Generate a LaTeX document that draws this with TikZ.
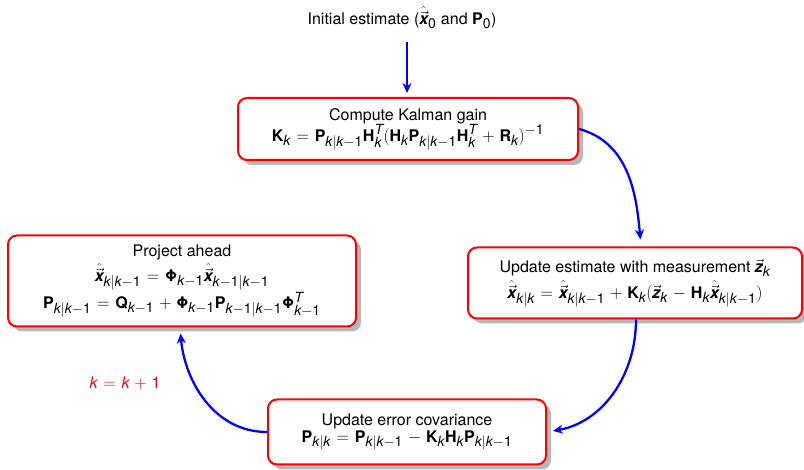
\documentclass[tikz,border=0pt]{standalone}
\usepackage{amsmath}
\usepackage{mathspec}
\setmainfont{TeX Gyre Heros}
\setmathsfont(Digits,Latin,Greek){TeX Gyre Heros}
\setmathrm{TeX Gyre Heros}
\DeclareMathSizes{16}{16}{14}{10}
\usetikzlibrary{shadows,arrows.meta}
\newcommand{\bv}[1]{\text{\bfseries #1}}
\newcommand{\xh}{\hat{\vec{\text{\bfseries\itshape x}}}}
\newcommand{\zv}{\vec{\text{\bfseries\itshape z}}}
\newcommand{\Phib}{\text{\bfseries Φ}}
\newcommand{\widemath}{\thickmuskip=6mu plus 2mu\relax\medmuskip=5mu plus 2mu\relax}
\begin{document}
\begin{tikzpicture}[x=1pt,y=-1pt,
  stagebox/.style={draw=red, line width=2pt, rounded corners=9pt, fill=white, align=center,
     drop shadow={shadow xshift=5pt, shadow yshift=-5pt, fill=black!28, opacity=1}},
  flow/.style={draw=blue, line width=2.3pt, -{Stealth[length=10pt,width=9pt]}},
  font=\fontsize{16}{17}\selectfont\widemath]
\useasboundingbox (0,0) rectangle (804,470);
\node (init) at (402,18) {Initial estimate ($\xh_0$ and $\bv{P}_0$)};
\node[stagebox, minimum width=340pt, minimum height=62pt] (gain) at (408,129)
  {Compute Kalman gain\\ $\bv{K}_k=\bv{P}_{k|k-1}\bv{H}_k^T(\bv{H}_k\bv{P}_{k|k-1}\bv{H}_k^T+\bv{R}_k)^{-1}$};
\node[stagebox, minimum width=334pt, minimum height=71pt] (upd) at (635,283)
  {Update estimate with measurement $\zv_k$\\[3pt] $\xh_{k|k}=\xh_{k|k-1}+\bv{K}_k(\zv_k-\bv{H}_k\xh_{k|k-1})$};
\node[stagebox, minimum width=278pt, minimum height=65pt] (cov) at (407,432)
  {Update error covariance\\ $\bv{P}_{k|k}=\bv{P}_{k|k-1}-\bv{K}_k\bv{H}_k\bv{P}_{k|k-1}$};
\node[stagebox, minimum width=348pt, minimum height=91pt] (proj) at (182,281)
  {Project ahead\\[2pt] $\xh_{k|k-1}=\Phib_{k-1}\xh_{k-1|k-1}$\\[1pt] $\bv{P}_{k|k-1}=\bv{Q}_{k-1}+\Phib_{k-1}\bv{P}_{k-1|k-1}\Phib_{k-1}^T$};
\node[text=red] (kk) at (125,383) {$k=k+1$};
\coordinate (a0) at (407,42);
\draw[flow, shorten >=4pt] (a0) -- (gain.north -| a0);
\draw[flow, shorten >=7pt] (gain.east) to[out=-15,in=95] ([xshift=6pt]upd.north);
\draw[flow, shorten >=6pt] ([xshift=1pt]upd.south) to[out=-90,in=10] (cov.east);
\draw[flow, shorten >=6pt] (cov.west) to[out=180,in=-85] ([xshift=-2pt]proj.south);
\end{tikzpicture}
\end{document}
